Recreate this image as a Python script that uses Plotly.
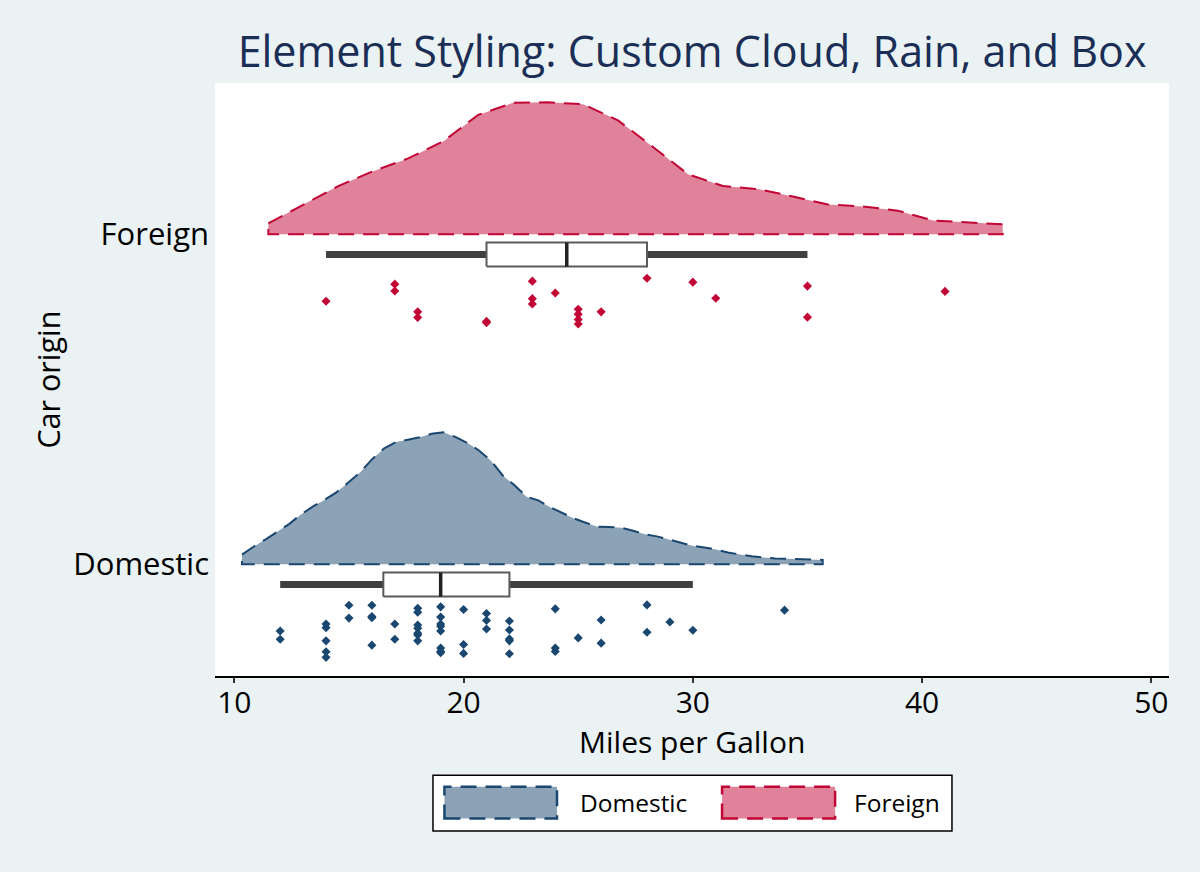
import numpy as np
import plotly.graph_objects as go

# ---------------- data ----------------
groups = ["Domestic", "Foreign"]
group_pos = [1, 2]

mpg_domestic = [12, 12, 14, 14, 14, 14, 14, 15, 15, 16, 16, 16, 16, 17, 17,
                18, 18, 18, 18, 18, 18, 18, 19, 19, 19, 19, 19, 19, 19, 19,
                20, 20, 20, 21, 21, 21, 22, 22, 22, 22, 22, 24, 24, 24, 25,
                26, 26, 28, 28, 29, 30, 34]
# vertical position of each raindrop below the group line
rain_domestic = [-0.202, -0.227, -0.181, -0.192, -0.232, -0.265, -0.282,
                 -0.124, -0.163, -0.124, -0.158, -0.162, -0.245, -0.181, -0.227,
                 -0.133, -0.145, -0.184, -0.194, -0.209, -0.214, -0.232,
                 -0.129, -0.160, -0.181, -0.188, -0.202, -0.254, -0.264, -0.268,
                 -0.137, -0.243, -0.270, -0.149, -0.170, -0.196,
                 -0.172, -0.199, -0.226, -0.232, -0.271, -0.135, -0.254, -0.264,
                 -0.223, -0.169, -0.239, -0.123, -0.206, -0.175, -0.200, -0.139]

mpg_foreign = [14, 17, 17, 18, 18, 21, 21, 23, 23, 23, 24, 25, 25, 25, 25,
               26, 28, 30, 31, 35, 35, 41]
rain_foreign = [-0.203, -0.151, -0.172, -0.235, -0.252, -0.264, -0.268,
                -0.142, -0.195, -0.211, -0.178, -0.227, -0.242, -0.258, -0.272,
                -0.235, -0.133, -0.145, -0.194, -0.157, -0.251, -0.173]

x_ticks = [10, 20, 30, 40, 50]

line_colors = {"Domestic": "#1A476F", "Foreign": "#C10534"}
fill_colors = {"Domestic": "rgba(26,71,111,0.5)", "Foreign": "rgba(193,5,52,0.5)"}

FONT = "Open Sans"
CLOUD_H = 0.40
BOX_OFF = -0.0615
BOX_HALF = 0.0364


def stata_pctile(v, p):
    v = np.sort(np.asarray(v, float))
    n = len(v)
    k = n * p / 100.0
    if abs(k - round(k)) < 1e-9:
        k = int(round(k))
        return (v[k - 1] + v[k]) / 2.0
    return v[int(np.floor(k))]


def kde_stata(v):
    v = np.asarray(v, float)
    n = len(v)
    q1, q3 = stata_pctile(v, 25), stata_pctile(v, 75)
    m = min(v.std(ddof=1), (q3 - q1) / 1.349)
    h = 0.9 * m / n ** 0.2
    npts = min(n, 50)
    grid = np.linspace(v.min() - h, v.max() + h, npts)
    u = (grid[:, None] - v[None, :]) / h
    k = np.where(np.abs(u) < np.sqrt(5), 0.75 * (1 - u ** 2 / 5) / np.sqrt(5), 0.0)
    dens = k.sum(axis=1) / (n * h)
    return grid, dens


fig = go.Figure()

data = {"Domestic": (mpg_domestic, rain_domestic), "Foreign": (mpg_foreign, rain_foreign)}

for g, base in zip(groups, group_pos):
    vals, rain = data[g]
    grid, dens = kde_stata(vals)
    yy = base + dens / dens.max() * CLOUD_H
    xs = np.concatenate([grid, grid[::-1][:1], grid[:1], grid[:1]])
    ys = np.concatenate([yy, [base, base], yy[:1]])
    fig.add_trace(go.Scatter(
        x=xs, y=ys, mode="lines", fill="toself",
        fillcolor=fill_colors[g],
        line=dict(color=line_colors[g], width=2, dash="16px,9px"),
        hoverinfo="skip", showlegend=False))

for g, base in zip(groups, group_pos):
    vals, rain = data[g]
    v = np.sort(np.asarray(vals, float))
    q1, med, q3 = stata_pctile(v, 25), stata_pctile(v, 50), stata_pctile(v, 75)
    iqr = q3 - q1
    lo = v[v >= q1 - 1.5 * iqr].min()
    hi = v[v <= q3 + 1.5 * iqr].max()
    yb = base + BOX_OFF
    fig.add_trace(go.Scatter(x=[lo, q1, None, q3, hi], y=[yb, yb, None, yb, yb],
                             mode="lines", line=dict(color="#404040", width=7),
                             hoverinfo="skip", showlegend=False))
    fig.add_trace(go.Scatter(
        x=[q1, q3, q3, q1, q1],
        y=[yb - BOX_HALF, yb - BOX_HALF, yb + BOX_HALF, yb + BOX_HALF, yb - BOX_HALF],
        mode="lines", fill="toself", fillcolor="white",
        line=dict(color="#5a5a5a", width=2), hoverinfo="skip", showlegend=False))
    fig.add_trace(go.Scatter(x=[med, med], y=[yb - BOX_HALF, yb + BOX_HALF],
                             mode="lines", line=dict(color="#222222", width=3.5),
                             hoverinfo="skip", showlegend=False))

for g, base in zip(groups, group_pos):
    vals, rain = data[g]
    fig.add_trace(go.Scatter(
        x=vals, y=[base + r for r in rain], mode="markers",
        marker=dict(symbol="diamond", size=7, color=line_colors[g], line=dict(width=0)),
        name=g, showlegend=False))

# ---------------- custom legend & axis titles (paper coords) ----------------
shapes = [
    dict(type="rect", xref="paper", yref="paper", x0=0.2285, x1=0.7725, y0=-0.2614, y1=-0.1675,
         line=dict(color="black", width=1.5), fillcolor="white", layer="below"),
]
legend_items = [("Domestic", 0.2405, 0.3585, 0.3805), ("Foreign", 0.5315, 0.650, 0.668)]
annotations = [
    dict(text="Miles per Gallon", xref="paper", yref="paper", x=0.5, y=-0.1110,
         xanchor="center", yanchor="middle", showarrow=False,
         font=dict(family=FONT, size=30, color="black")),
    dict(text="Car origin", xref="paper", yref="paper", x=-0.176, y=0.5, textangle=-90,
         xanchor="center", yanchor="middle", showarrow=False,
         font=dict(family=FONT, size=30.5, color="black")),
]
for g, x0, x1, xt in legend_items:
    shapes.append(dict(type="rect", xref="paper", yref="paper", x0=x0, x1=x1,
                       y0=-0.2405, y1=-0.1866, fillcolor=fill_colors[g],
                       line=dict(color=line_colors[g], width=2.5, dash="16px,9px")))
    annotations.append(dict(text=g, xref="paper", yref="paper", x=xt, y=-0.2135,
                            xanchor="left", yanchor="middle", showarrow=False,
                            font=dict(family=FONT, size=24.5, color="black")))

fig.update_layout(
    width=1200, height=872,
    margin=dict(l=215, r=31, t=83, b=196),
    paper_bgcolor="#EAF2F3", plot_bgcolor="white",
    font=dict(family=FONT, color="black"),
    title=dict(text="Element Styling: Custom Cloud, Rain, and Box",
               x=0.5767, xanchor="center", y=0.940, yanchor="middle",
               font=dict(family=FONT, size=43, color="#1A2E56")),
    xaxis=dict(range=[9.157, 50.77], tickvals=x_ticks, ticks="outside", ticklen=5,
               tickcolor="#333333", tickwidth=1.5, showline=True, linecolor="black",
               linewidth=1.5, showgrid=False, zeroline=False, ticklabelstandoff=-6,
               tickfont=dict(size=30)),
    yaxis=dict(range=[0.6615, 2.4585], tickvals=group_pos, ticktext=groups,
               showline=False, showgrid=False, zeroline=False, ticks="",
               ticklabelstandoff=5, tickfont=dict(size=31)),
    shapes=shapes, annotations=annotations, showlegend=False,
)

fig.write_html("out.html", config={"displayModeBar": False},
               post_script="document.body.style.margin='0';")
